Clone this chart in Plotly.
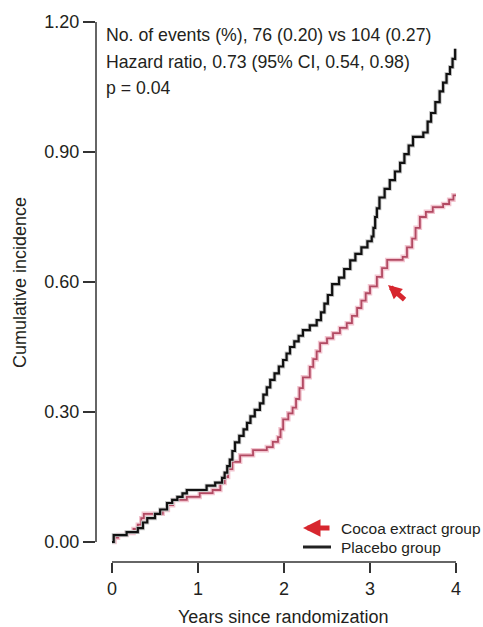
import plotly.graph_objects as go

# ---- data ----
placebo_t = [0.00, 0.02, 0.17, 0.30, 0.36, 0.41, 0.50, 0.56, 0.64, 0.70, 0.76, 0.82, 0.87,
             1.10, 1.20, 1.28, 1.31, 1.34, 1.37, 1.40, 1.43, 1.48, 1.53, 1.57, 1.61, 1.66,
             1.72, 1.76, 1.80, 1.84, 1.89, 1.94, 1.99, 2.03, 2.07, 2.12, 2.17, 2.22, 2.30,
             2.38, 2.43, 2.47, 2.51, 2.56, 2.64, 2.70, 2.77, 2.83, 2.90, 2.97, 3.02, 3.04,
             3.06, 3.08, 3.11, 3.17, 3.23, 3.29, 3.35, 3.40, 3.45, 3.50, 3.62, 3.67, 3.71,
             3.76, 3.81, 3.85, 3.89, 3.93, 3.96, 3.99]
placebo_v = [0.000, 0.016, 0.023, 0.032, 0.045, 0.055, 0.065, 0.075, 0.090, 0.097, 0.104, 0.112, 0.120,
             0.130, 0.137, 0.148, 0.160, 0.175, 0.190, 0.210, 0.230, 0.245, 0.260, 0.275, 0.290, 0.305,
             0.320, 0.340, 0.357, 0.374, 0.389, 0.405, 0.420, 0.435, 0.450, 0.463, 0.476, 0.489, 0.500,
             0.512, 0.530, 0.550, 0.570, 0.595, 0.610, 0.630, 0.650, 0.665, 0.680, 0.694, 0.705, 0.725,
             0.750, 0.770, 0.795, 0.815, 0.835, 0.855, 0.875, 0.895, 0.915, 0.935, 0.945, 0.970, 0.990,
             1.015, 1.040, 1.060, 1.080, 1.096, 1.115, 1.138]

cocoa_t = [0.00, 0.03, 0.07, 0.17, 0.25, 0.30, 0.34, 0.37, 0.59, 0.65, 0.71, 0.87, 1.02, 1.17,
           1.26, 1.31, 1.35, 1.40, 1.49, 1.64, 1.80, 1.87, 1.93, 1.96, 1.99, 2.05, 2.10, 2.14,
           2.18, 2.22, 2.30, 2.34, 2.38, 2.42, 2.50, 2.57, 2.65, 2.73, 2.79, 2.85, 2.90, 2.95,
           3.00, 3.08, 3.14, 3.20, 3.38, 3.43, 3.49, 3.53, 3.58, 3.65, 3.73, 3.85, 3.92, 3.97, 4.00]
cocoa_v = [0.000, 0.010, 0.016, 0.021, 0.030, 0.040, 0.055, 0.065, 0.074, 0.085, 0.097, 0.104, 0.113, 0.120,
           0.136, 0.150, 0.168, 0.185, 0.200, 0.212, 0.219, 0.231, 0.242, 0.260, 0.283, 0.297, 0.310, 0.330,
           0.355, 0.380, 0.404, 0.422, 0.440, 0.459, 0.470, 0.482, 0.494, 0.505, 0.522, 0.540, 0.557, 0.574,
           0.590, 0.612, 0.632, 0.651, 0.658, 0.680, 0.700, 0.725, 0.750, 0.762, 0.773, 0.780, 0.790, 0.800, 0.800]

x_ticks = [0, 1, 2, 3, 4]
x_ticklabels = ["0", "1", "2", "3", "4"]
y_ticks = [0.0, 0.3, 0.6, 0.9, 1.2]
y_ticklabels = ["0.00", "0.30", "0.60", "0.90", "1.20"]

stats_lines = ["No. of events (%), 76 (0.20) vs 104 (0.27)",
               "Hazard ratio, 0.73 (95% CI, 0.54, 0.98)",
               "p = 0.04"]
legend_names = ["Cocoa extract group", "Placebo group"]

# ---- layout geometry (pixels) ----
W, H = 483, 627
ML, MR, MT, MB = 96, 18, 15, 65
PW, PH = W - ML - MR, H - MT - MB
X_PX_PER_UNIT = 86.0
Y_PX_PER_UNIT = 130.0 / 0.3
x0 = -16 / X_PX_PER_UNIT
x1 = x0 + PW / X_PX_PER_UNIT
y0 = -20 / Y_PX_PER_UNIT
y1 = y0 + PH / Y_PX_PER_UNIT


def px(xp):
    return (xp - ML) / PW


def py(yp):
    return (H - MB - yp) / PH


FONT = "Liberation Sans, Arial, sans-serif"
TXT = "#231f20"
AX = "#333333"
RED = "#d7262e"

fig = go.Figure()
# cocoa: pink halo + darker core
fig.add_trace(go.Scatter(x=cocoa_t, y=cocoa_v, mode="lines", line_shape="hv",
                         line=dict(color="#f2c4cf", width=4.5), hoverinfo="skip", showlegend=False))
fig.add_trace(go.Scatter(x=cocoa_t, y=cocoa_v, mode="lines", line_shape="hv",
                         line=dict(color="#b24a63", width=1.8), name=legend_names[0], showlegend=False))
# placebo
fig.add_trace(go.Scatter(x=placebo_t, y=placebo_v, mode="lines", line_shape="hv",
                         line=dict(color="#c8c8c8", width=4), hoverinfo="skip", showlegend=False))
fig.add_trace(go.Scatter(x=placebo_t, y=placebo_v, mode="lines", line_shape="hv",
                         line=dict(color="#111111", width=2.2), name=legend_names[1], showlegend=False))

shapes = [
    dict(type="line", xref="x", yref="paper", x0=0, x1=4, y0=0, y1=0,
         line=dict(color=AX, width=1.5)),
    dict(type="line", xref="paper", yref="y", x0=0, x1=0, y0=0, y1=1.2,
         line=dict(color=AX, width=1.5)),
    # legend black line
    dict(type="line", xref="paper", yref="paper", x0=px(303), x1=px(331), y0=py(547), y1=py(547),
         line=dict(color="#222222", width=3)),
]

annotations = []
for i, (line, yc) in enumerate(zip(stats_lines, [35, 61.5, 88])):
    annotations.append(dict(xref="paper", yref="paper", x=px(104), y=py(yc), text=line,
                            showarrow=False, xanchor="left", yanchor="middle",
                            font=dict(family=FONT, size=17.7, color=TXT)))
# legend labels
for name, yc in zip(legend_names, [528, 547]):
    annotations.append(dict(xref="paper", yref="paper", x=px(339), y=py(yc), text=name,
                            showarrow=False, xanchor="left", yanchor="middle",
                            font=dict(family=FONT, size=15.5, color=TXT)))
# legend red arrow
annotations.append(dict(xref="paper", yref="paper", x=px(303), y=py(528), ax=28, ay=0,
                        text="", showarrow=True, arrowhead=2, arrowsize=0.7,
                        arrowwidth=5, arrowcolor=RED, standoff=0))
# in-plot red arrow pointing at cocoa curve
annotations.append(dict(xref="x", yref="y", x=3.21, y=0.593, ax=18, ay=16,
                        text="", showarrow=True, arrowhead=2, arrowsize=0.55,
                        arrowwidth=5, arrowcolor=RED, standoff=0))
# axis titles
annotations.append(dict(xref="paper", yref="paper", x=px(282.5), y=py(617),
                        text="Years since randomization", showarrow=False,
                        xanchor="center", yanchor="middle",
                        font=dict(family=FONT, size=18, color=TXT)))
annotations.append(dict(xref="paper", yref="paper", x=px(20), y=py(283),
                        text="Cumulative incidence", showarrow=False, textangle=-90,
                        xanchor="center", yanchor="middle",
                        font=dict(family=FONT, size=18, color=TXT)))

fig.update_layout(
    width=W, height=H,
    margin=dict(l=ML, r=MR, t=MT, b=MB, pad=0),
    paper_bgcolor="white", plot_bgcolor="white",
    showlegend=False,
    shapes=shapes, annotations=annotations,
    xaxis=dict(range=[x0, x1], tickvals=x_ticks, ticktext=x_ticklabels,
               showgrid=False, zeroline=False, showline=False,
               ticks="outside", ticklen=10, tickwidth=1.5, tickcolor=AX,
               tickfont=dict(family=FONT, size=18, color=TXT), fixedrange=True),
    yaxis=dict(range=[y0, y1], tickvals=y_ticks, ticktext=y_ticklabels,
               showgrid=False, zeroline=False, showline=False,
               ticks="outside", ticklen=12, tickwidth=1.5, tickcolor=AX,
               tickfont=dict(family=FONT, size=18, color=TXT), fixedrange=True),
)

fig.write_html("out.html", config={"displayModeBar": False},
               post_script="document.body.style.margin='0';document.body.style.overflow='hidden';")
